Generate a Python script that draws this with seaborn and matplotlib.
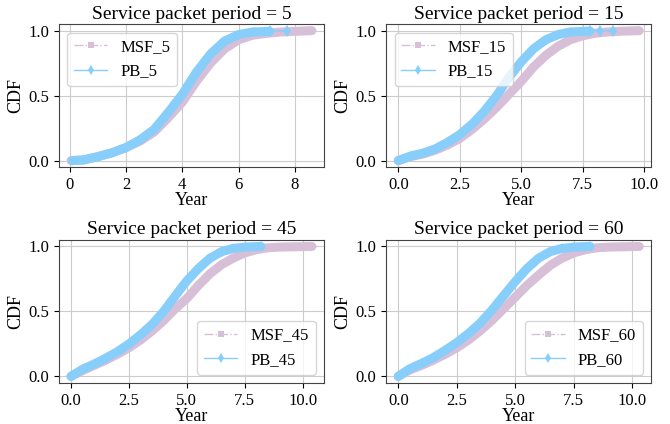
import matplotlib
matplotlib.use("Agg")
import matplotlib.pyplot as plt
import seaborn as sns

# values (year, CDF)
msf5_x = [0.05, 0.5, 1.0, 1.5, 2.0, 2.5, 3.0, 3.5, 4.0, 4.5, 5.0, 5.5, 6.0, 6.5, 7.0, 7.5, 8.0, 8.6]
msf5_y = [0.0, 0.005, 0.03, 0.06, 0.10, 0.15, 0.22, 0.33, 0.45, 0.61, 0.75, 0.86, 0.93, 0.965, 0.98, 0.99, 0.995, 1.0]
pb5_x = [0.1, 0.5, 1.0, 1.5, 2.0, 2.5, 3.0, 3.5, 4.0, 4.5, 5.0, 5.5, 6.0, 6.5, 7.1]
pb5_y = [0.0, 0.005, 0.03, 0.06, 0.10, 0.16, 0.24, 0.37, 0.51, 0.68, 0.82, 0.92, 0.97, 0.99, 0.995]
pb5_tail_x = [7.1, 7.7]
pb5_tail_y = [0.995, 1.0]

msf15_x = [0.0, 0.5, 1.0, 1.5, 2.0, 2.5, 3.0, 3.5, 4.0, 4.5, 5.0, 5.5, 6.0, 6.5, 7.0, 7.5, 8.0, 8.5, 9.0, 9.8]
msf15_y = [0.0, 0.03, 0.05, 0.08, 0.12, 0.17, 0.24, 0.32, 0.41, 0.51, 0.61, 0.72, 0.81, 0.88, 0.93, 0.96, 0.98, 0.99, 0.995, 1.0]
pb15_x = [0.0, 0.5, 1.0, 1.5, 2.0, 2.5, 3.0, 3.5, 4.0, 4.5, 5.0, 5.5, 6.0, 6.5, 7.0, 7.5, 7.8]
pb15_y = [0.0, 0.035, 0.057, 0.09, 0.14, 0.20, 0.28, 0.38, 0.50, 0.64, 0.76, 0.86, 0.93, 0.97, 0.99, 0.995, 0.997]
pb15_tail_x = [7.8, 8.22, 8.73]
pb15_tail_y = [0.997, 0.999, 1.0]

msf45_x = [0.0, 0.5, 1.0, 1.5, 2.0, 2.5, 3.0, 3.5, 4.0, 4.5, 5.0, 5.5, 6.0, 6.5, 7.0, 7.5, 8.0, 8.5, 9.0, 10.4]
msf45_y = [0.0, 0.045, 0.085, 0.125, 0.17, 0.22, 0.28, 0.35, 0.43, 0.52, 0.60, 0.70, 0.79, 0.86, 0.91, 0.95, 0.975, 0.99, 0.995, 1.0]
pb45_x = [0.0, 0.5, 1.0, 1.5, 2.0, 2.5, 3.0, 3.5, 4.0, 4.5, 5.0, 5.5, 6.0, 6.5, 7.0, 7.5, 8.2]
pb45_y = [0.0, 0.055, 0.095, 0.14, 0.19, 0.25, 0.32, 0.40, 0.50, 0.62, 0.735, 0.83, 0.91, 0.96, 0.985, 0.995, 1.0]

msf60_x = [0.0, 0.5, 1.0, 1.5, 2.0, 2.5, 3.0, 3.5, 4.0, 4.5, 5.0, 5.5, 6.0, 6.5, 7.0, 7.5, 8.0, 8.5, 9.0, 10.3]
msf60_y = [0.0, 0.05, 0.085, 0.125, 0.17, 0.22, 0.28, 0.35, 0.43, 0.52, 0.61, 0.70, 0.78, 0.855, 0.91, 0.95, 0.975, 0.99, 0.995, 1.0]
pb60_x = [0.0, 0.5, 1.0, 1.5, 2.0, 2.5, 3.0, 3.5, 4.0, 4.5, 5.0, 5.5, 6.0, 6.5, 7.0, 7.5, 8.2]
pb60_y = [0.0, 0.06, 0.10, 0.145, 0.20, 0.26, 0.33, 0.41, 0.51, 0.62, 0.73, 0.83, 0.91, 0.96, 0.985, 0.995, 1.0]

periods = [5, 15, 45, 60]

plt.rcParams['font.family'] = ['Liberation Serif', 'DejaVu Serif']
plt.rcParams['axes.titlesize'] = 14
plt.rcParams['axes.labelsize'] = 13
plt.rcParams['xtick.labelsize'] = 12
plt.rcParams['ytick.labelsize'] = 12
plt.rcParams['legend.fontsize'] = 12

MSF_COLOR = "#d8bfd8"
PB_COLOR = "#87cefa"

panels = [
    (msf5_x, msf5_y, pb5_x, pb5_y, pb5_tail_x, pb5_tail_y, "upper left"),
    (msf15_x, msf15_y, pb15_x, pb15_y, pb15_tail_x, pb15_tail_y, "upper left"),
    (msf45_x, msf45_y, pb45_x, pb45_y, None, None, "lower right"),
    (msf60_x, msf60_y, pb60_x, pb60_y, None, None, "lower right"),
]

fig, axes = plt.subplots(2, 2, figsize=(6.7, 4.24), dpi=100)
fig.subplots_adjust(left=0.088, right=0.972, top=0.943, bottom=0.097, wspace=0.235, hspace=0.51)

for ax, period, (mx, my, px, py, tx, ty, loc) in zip(axes.flat, periods, panels):
    # thick bands (dense markers in the original)
    sns.lineplot(x=mx, y=my, ax=ax, color=MSF_COLOR, lw=6.5, solid_capstyle="round",
                 sort=False, legend=False)
    sns.lineplot(x=mx, y=my, ax=ax, color=MSF_COLOR, lw=1, ls="-.", marker="s",
                 markersize=5, markeredgewidth=0, sort=False, label=f"MSF_{period}")
    sns.lineplot(x=px, y=py, ax=ax, color=PB_COLOR, lw=6.5, solid_capstyle="round",
                 sort=False, legend=False)
    sns.lineplot(x=px, y=py, ax=ax, color=PB_COLOR, lw=1, ls="-", marker="d",
                 markersize=5, markeredgewidth=0, sort=False, label=f"PB_{period}")
    if tx is not None:
        sns.lineplot(x=tx, y=ty, ax=ax, color=PB_COLOR, lw=1, marker="d",
                     markersize=6, markeredgewidth=0, sort=False, legend=False)

    ax.set_title(f"Service packet period = {period}", pad=4)
    ax.set_xlabel("Year", labelpad=-0.5)
    ax.set_ylabel("CDF", labelpad=3)
    ax.set_yticks([0.0, 0.5, 1.0])
    ax.grid(True, color="#cccccc", lw=0.8)
    for s in ax.spines.values():
        s.set_color("#444444")
    ax.legend(loc=loc)

axes[0, 0].set_xticks([0, 2, 4, 6, 8])
for ax in [axes[0, 1], axes[1, 0], axes[1, 1]]:
    ax.set_xticks([0.0, 2.5, 5.0, 7.5, 10.0])

plt.savefig("out.png", dpi=100)
